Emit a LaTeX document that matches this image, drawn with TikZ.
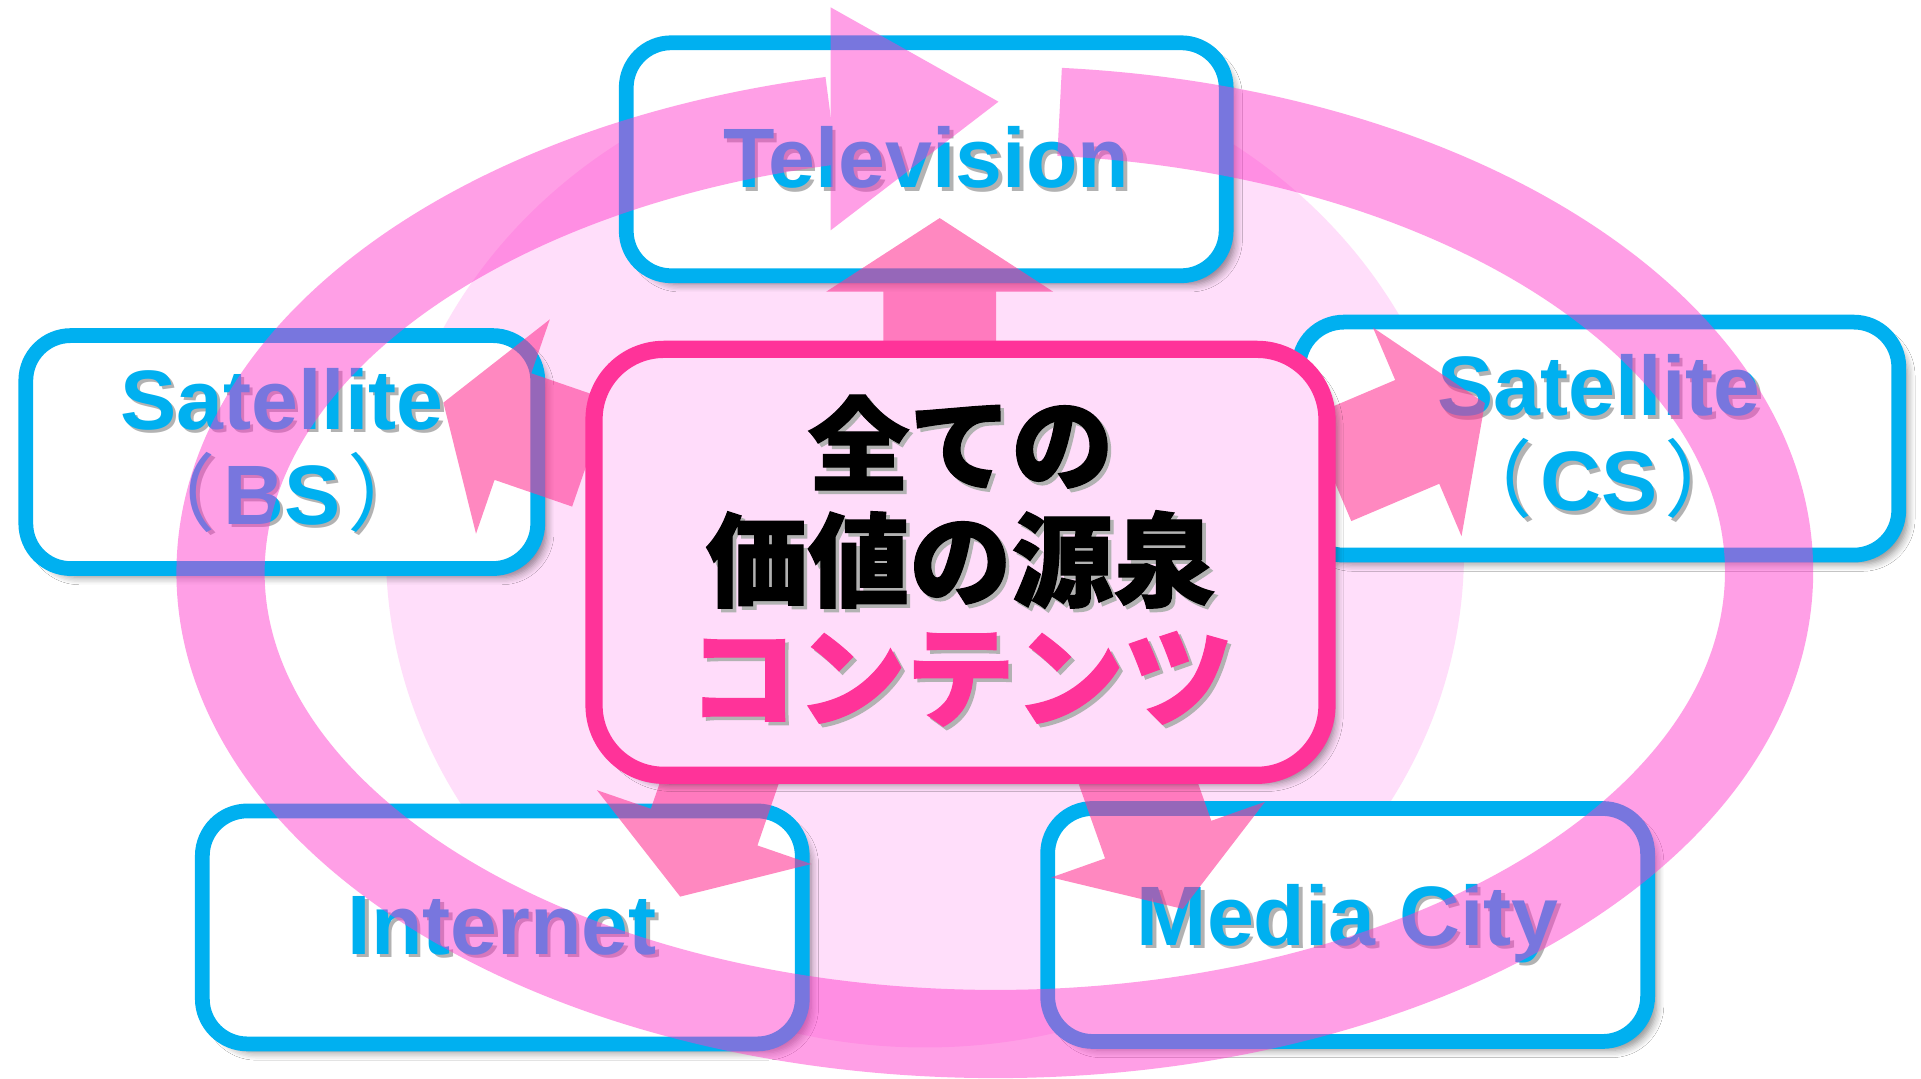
\documentclass[tikz,border=0pt]{standalone}
\usepackage{fontspec}
\setmainfont{Liberation Sans}
\newfontfamily\cjk{Noto Sans CJK JP}[BoldFeatures={FakeBold=1.2}]
\usetikzlibrary{positioning}
\usetikzlibrary{shadows.blur}
\definecolor{mediablue}{RGB}{0,176,240}
\definecolor{contentpink}{RGB}{255,51,153}
\definecolor{contentfill}{RGB}{255,220,250}
\definecolor{glowpink}{RGB}{255,222,250}
\definecolor{arrowpink}{RGB}{255,53,148}
\definecolor{ringpink}{RGB}{255,53,202}
\newcommand{\shadowed}[1]{\leavevmode\rlap{\kern1pt\raisebox{-1pt}{\color{black!30}#1}}#1}

\begin{document}
\begin{tikzpicture}[
		x=0.012251cm,y=0.012251cm,
		media/.style={draw=mediablue,line width=4.2pt,fill=white,rounded corners=0.45cm,
			minimum width=6cm,minimum height=2.33cm,align=center,text=mediablue,
			font=\fontsize{24}{27}\selectfont\bfseries,
			blur shadow={shadow xshift=2.5pt,shadow yshift=-2.5pt,shadow blur steps=6,shadow opacity=45}},
		content/.style={draw=contentpink,line width=4.9pt,fill=contentfill,rounded corners=0.7cm,
			minimum width=7.33cm,minimum height=4.26cm,align=center,
			font=\cjk\bfseries\fontsize{29}{33}\selectfont,
			blur shadow={shadow xshift=2.5pt,shadow yshift=-2.5pt,shadow blur steps=6,shadow opacity=45}},
		pics/spread/.style={code={
			\fill [pic actions] (0,-46) -- (#1-60,-46) -- (#1-60,-92.5) -- (#1,0) -- (#1-60,92.5) -- (#1-60,46) -- (0,46) --cycle;
		}},
		spreadfill/.style={fill=arrowpink,fill opacity=0.59}
	]
	\useasboundingbox (0,0) rectangle (1568,880);
	\fill [white] (0,0) rectangle (1568,880);
	\fill [glowpink] (755,430) ellipse [x radius=440,y radius=405];

	\node [media] (tv) at (756,750) {\shadowed{Television}};
	\node [media,minimum width=5.12cm] (bs) at (230,511) {\shadowed{Satellite}\\\shadowed{{\mdseries\cjk （}\kern2pt BS\kern2pt{\mdseries\cjk ）}}};
	\node [media] (cs) at (1305,522) {\shadowed{Satellite}\\\shadowed{{\mdseries\cjk （}\kern2pt CS\kern2pt{\mdseries\cjk ）}}};
	\node [media] (inet) at (410,123) {\shadowed{Internet}};
	\node [media] (mcity) at (1100,125) {\shadowed{Media City}};

	\pic [spreadfill,rotate=90] (tvspread) at (767,595) {spread=107};
	\pic [spreadfill,rotate=161] (bsspread) at (482,510) {spread=127};
	\pic [spreadfill,rotate=23] (csspread) at (1085,497) {spread=138};
	\pic [spreadfill,rotate=251] (inetspread) at (592,255) {spread=113};
	\pic [spreadfill,rotate=289.5] (mcityspread) at (924,255) {spread=124};

	\node [content] (source) at (784,421) {\shadowed{全ての}\\\shadowed{価値の源泉}\\[1pt]{\color{contentpink}\fontsize{31}{33}\selectfont\shadowed{コンテンツ}}};

	\begin{scope}[transparency group,opacity=0.47]
		\draw [ringpink,line width=0.882cm] (812,413) ++(85.2:632 and 377) arc [start angle=85.2,end angle=-257.8,x radius=632,y radius=377];
		\fill [ringpink] (678,874) -- (815,797) -- (678,692) --cycle;
	\end{scope}
\end{tikzpicture}
\end{document}
